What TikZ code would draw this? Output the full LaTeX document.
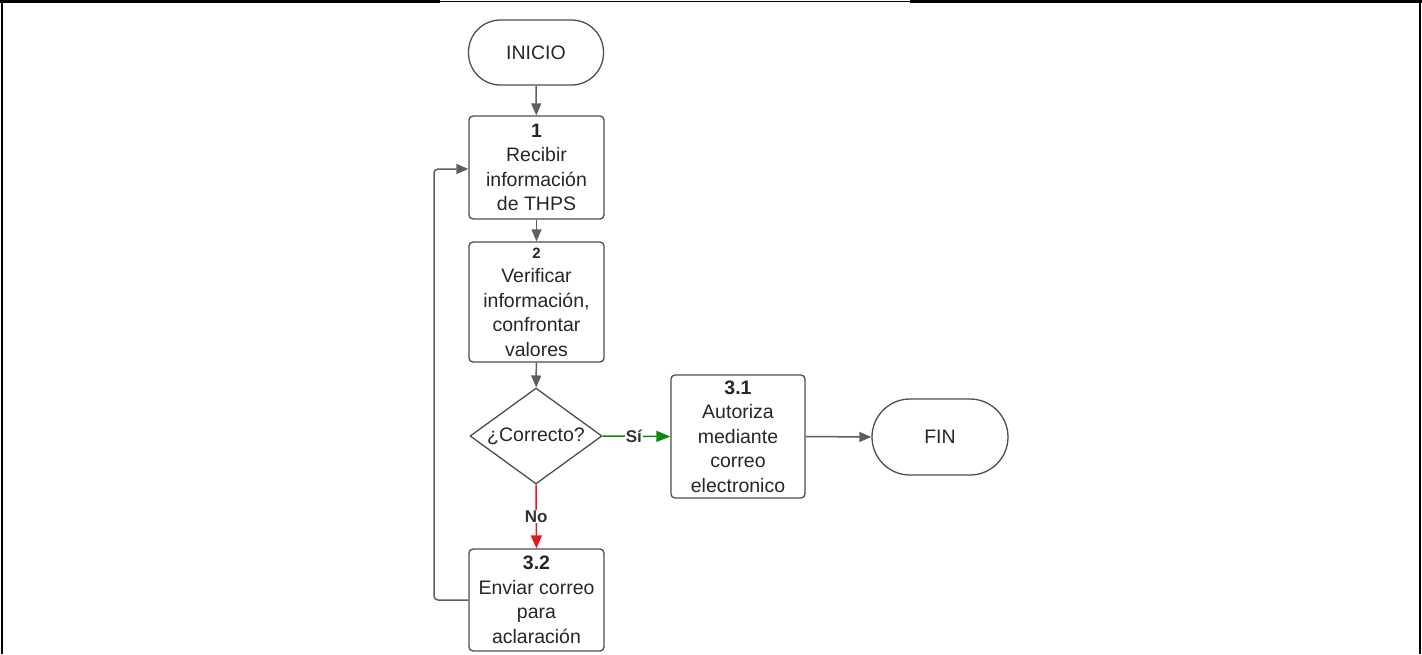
\documentclass[tikz,border=0pt]{standalone}
\usepackage{fontspec}
\setmainfont{Liberation Sans}
\usetikzlibrary{shapes.geometric,arrows.meta}
\definecolor{ln}{HTML}{4D4D4D}
\definecolor{arr}{HTML}{5E5E5E}
\definecolor{gr}{HTML}{0A8A0A}
\definecolor{rd}{HTML}{E8161B}
\tikzset{
  x=1pt,y=-1pt,
  every node/.style={font=\fontsize{19.5}{24.5}\selectfont, text=black!85, align=center},
  proc/.style={draw=ln, line width=1.3pt, rounded corners=4pt, minimum width=135pt, inner sep=0pt},
  term/.style={draw=ln, line width=1.3pt, rounded corners=32pt, inner sep=0pt},
  dec/.style={draw=ln, line width=1.3pt, diamond, aspect=1.375, minimum width=132pt, minimum height=96pt, inner sep=0pt},
  flow/.style={draw=arr, line width=1.5pt, -{Triangle[length=12pt,width=10pt]}},
  lbl/.style={font=\fontsize{17}{20}\selectfont\bfseries, fill=white, inner sep=1pt}
}
\begin{document}
\begin{tikzpicture}
\useasboundingbox (0,0) rectangle (1422,654);
% frame
\draw[black, line width=3pt] (0,1.5) -- (440,1.5);
\draw[black, line width=3pt] (910,1.5) -- (1422,1.5);
\draw[black, line width=1.2pt] (440,1.5) -- (910,1.5);
\draw[black, line width=2pt] (2,0) -- (2,654);
\draw[black, line width=2pt] (1419.5,0) -- (1419.5,654);
% nodes
\node[term, minimum width=135pt, minimum height=65pt] (ini) at (536,52.5) {INICIO};
\node[proc, minimum height=103pt] (p1) at (536.5,167.5) {\textbf{1}\\Recibir\\información\\de THPS};
\node[proc, minimum height=120pt] (p2) at (536.5,302) {{\fontsize{15}{18}\selectfont\textbf{2}}\\Verificar\\información,\\confrontar\\valores};
\node[dec] (d) at (536,436) {¿Correcto?};
\node[proc, minimum width=134pt, minimum height=123pt] (p31) at (738,436.5) {\textbf{3.1}\\Autoriza\\mediante\\correo\\electronico};
\node[term, minimum width=136pt, minimum height=76pt, rounded corners=38pt] (fin) at (940,437) {FIN};
\node[proc, minimum height=102pt] (p32) at (536.5,600) {\textbf{3.2}\\Enviar correo\\para\\aclaración};
% connectors
\draw[flow] (ini) -- (p1);
\draw[flow] (p1) -- (p2);
\draw[flow] (p2) -- (d);
\draw[flow, draw=gr, -{Triangle[length=14pt,width=11pt,fill=gr]}] (d.east) -- node[lbl, text=black!80, pos=0.46]{Sí} (p31.west);
\draw[flow, draw=rd, -{Triangle[length=13pt,width=11pt,fill=rd]}] (d.south) -- node[lbl, text=black!80, pos=0.5]{No} (p32.north);
\draw[flow] (p31.east) -- (fin.west);
\draw[flow, rounded corners=4pt] (p32.west) -- (434,600) -- (434,169) -- (p1.west |- 0,169);
\end{tikzpicture}
\end{document}
